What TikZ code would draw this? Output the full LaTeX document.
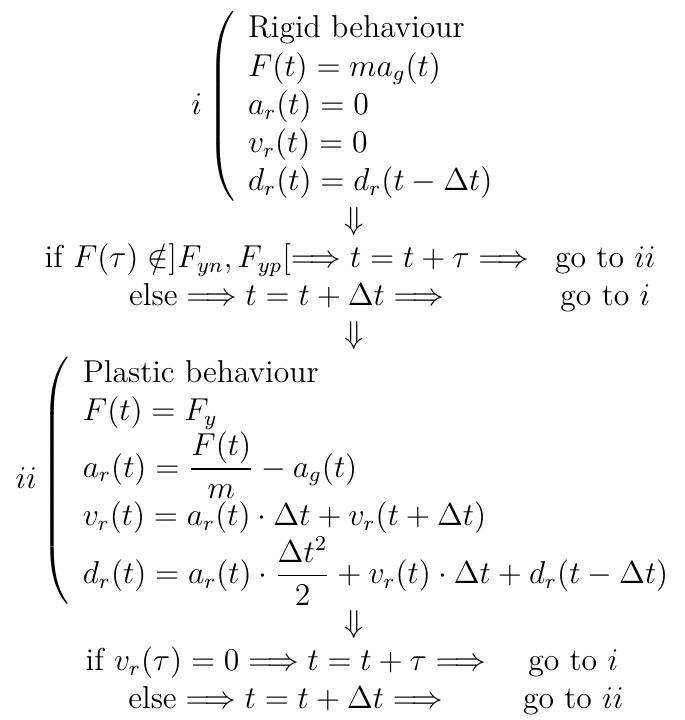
\documentclass[tikz,border=0pt,12pt]{standalone}
\usepackage{amsmath}
\usetikzlibrary{positioning,calc}

\begin{document}
\begin{tikzpicture}[
    eqblock/.style={inner sep=0pt, outer sep=0pt},
    downarrow/.style={inner sep=0pt, outer sep=0pt}
]
\node[eqblock] (rigid) {$i\left(\begin{array}{l}\text{Rigid behaviour}\\ F(t)=ma_g(t)\\ a_r(t)=0\\ v_r(t)=0\\ d_r(t)=d_r(t-\Delta t)\end{array}\right.$};
\node[downarrow, below=0pt of rigid] (arrA) {$\strut\Downarrow$};
\node[eqblock, below=0pt of arrA] (condA) {$\begin{array}{cc}\text{if } F(\tau)\notin]F_{yn},F_{yp}[\Longrightarrow t=t+\tau\Longrightarrow & \text{go to } ii\\ \text{else}\Longrightarrow t=t+\Delta t\Longrightarrow & \text{go to } i\end{array}$};
\node[downarrow, below=0pt of condA] (arrB) {$\strut\Downarrow$};
\node[eqblock, below=0pt of arrB] (plastic) {$ii\left(\begin{array}{l}\text{Plastic behaviour}\\ F(t)=F_y\\ a_r(t)=\dfrac{F(t)}{m}-a_g(t)\\ v_r(t)=a_r(t)\cdot\Delta t+v_r(t+\Delta t)\\ d_r(t)=a_r(t)\cdot\dfrac{\Delta t^2}{2}+v_r(t)\cdot\Delta t+d_r(t-\Delta t)\end{array}\right.$};
\node[downarrow, below=0pt of plastic] (arrC) {$\strut\Downarrow$};
\node[eqblock, below=0pt of arrC] (condB) {$\begin{array}{@{\hspace{8.4pt}}c@{\hspace{14pt}}c}\text{if } v_r(\tau)=0\Longrightarrow t=t+\tau\Longrightarrow & \text{go to } i\\ \text{else}\Longrightarrow t=t+\Delta t\Longrightarrow & \text{go to } ii\end{array}$};

\useasboundingbox let \p1=(plastic.west), \p2=(plastic.east), \p3=(rigid.north), \p4=(condB.south),
    \n1={\x2-\x1+1.7pt}, \n2={\n1*1.0619}, \n3={(\y3+\y4)/2+3pt} in
    ({\x1-5.9pt},{\n3+\n2/2}) rectangle ({\x1-5.9pt+\n1},{\n3-\n2/2});
\end{tikzpicture}
\end{document}
